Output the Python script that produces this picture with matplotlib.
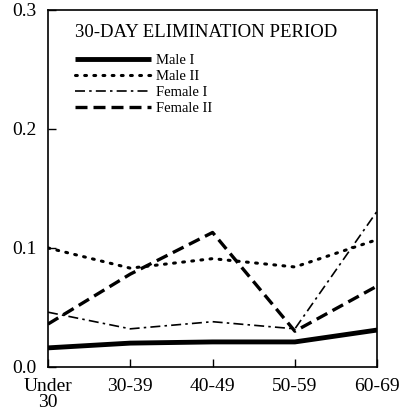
import matplotlib
matplotlib.use("Agg")
from matplotlib import pyplot as plt

# age groups and rates
age_groups = ["Under\n30", "30-39", "40-49", "50-59", "60-69"]
male_1 = [0.016, 0.020, 0.021, 0.021, 0.031]
male_2 = [0.100, 0.083, 0.091, 0.084, 0.107]
female_1 = [0.046, 0.032, 0.038, 0.032, 0.131]
female_2 = [0.036, 0.078, 0.113, 0.030, 0.068]

plt.rcParams['font.family'] = ['Liberation Serif', 'DejaVu Serif']

fig = plt.figure(figsize=(4.1, 4.16), dpi=100)
ax = fig.add_axes([0.117, 0.118, 0.803, 0.858])

x = range(len(age_groups))
ax.plot(x, male_1, color='black', linewidth=3.5, solid_capstyle='butt', label='Male I')
ax.plot(x, male_2, color='black', linewidth=2.2, linestyle=(0, (0.6, 2.4)),
        dash_capstyle='round', label='Male II')
ax.plot(x, female_1, color='black', linewidth=1.2, linestyle=(0, (6, 2.5, 1.5, 2.5)),
        label='Female I')
ax.plot(x, female_2, color='black', linewidth=2.4, linestyle=(0, (3.6, 1.8)),
        label='Female II')

ax.set_xlim(0, len(age_groups) - 1)
ax.set_ylim(0.0, 0.3)
ax.set_xticks(list(x))
ax.set_xticklabels(age_groups, fontsize=14, linespacing=0.95)
ax.set_yticks([0.0, 0.1, 0.2, 0.3])
ax.set_yticklabels(["0.0", "0.1", "0.2", "0.3"], fontsize=14)
ax.tick_params(direction='in', length=6, width=1, pad=8)
for s in ax.spines.values():
    s.set_linewidth(1.2)

leg = ax.legend(loc='upper left', bbox_to_anchor=(0.055, 0.985), frameon=False,
                title="30-DAY ELIMINATION PERIOD", fontsize=10.5,
                handlelength=5.2, handletextpad=0.35, labelspacing=0.2,
                borderaxespad=0.2)
leg.get_title().set_fontsize(13.5)
leg._legend_box.align = "left"
leg._legend_box.sep = 9

fig.savefig("out.png", dpi=100)
